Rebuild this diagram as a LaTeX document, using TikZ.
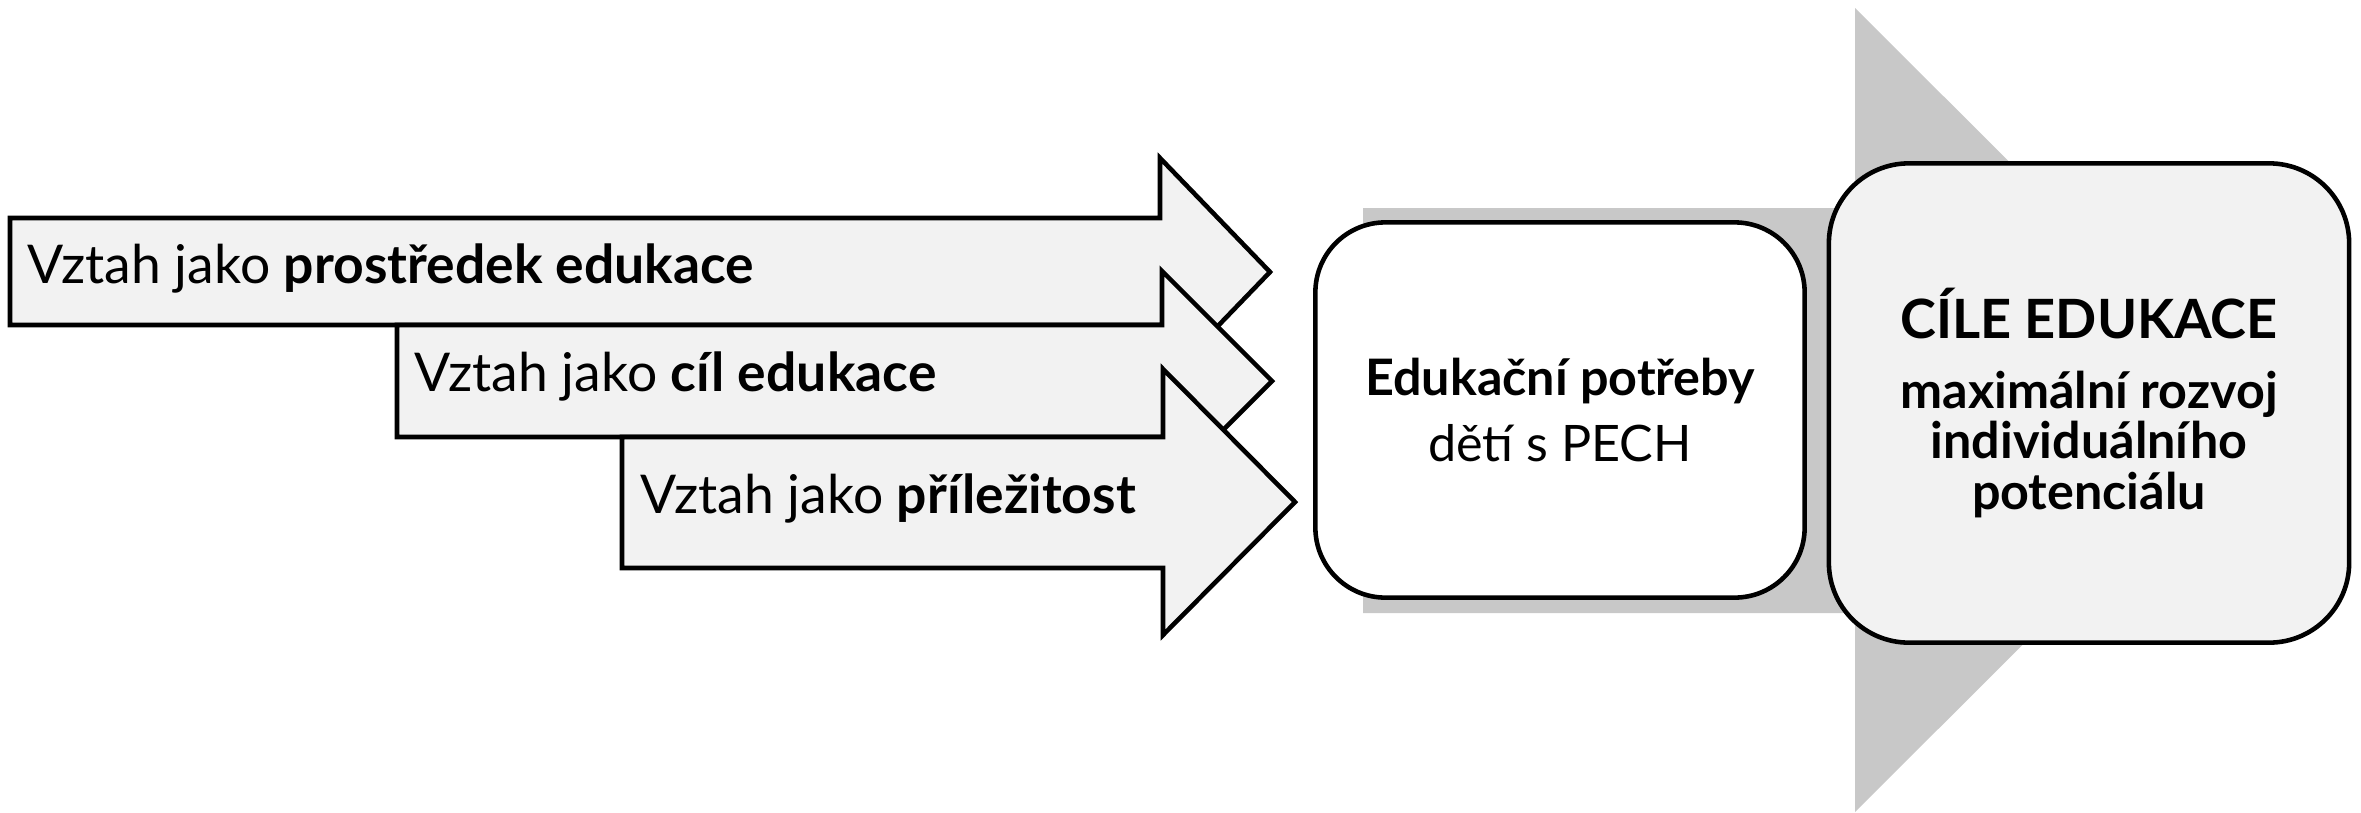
\documentclass[tikz,border=0pt]{standalone}
\usepackage{fontspec}
\setmainfont{Lato}
\definecolor{svetla}{RGB}{242,242,242}
\definecolor{sediva}{RGB}{200,200,200}
\tikzset{
  sipka/.style={draw=black,fill=svetla,line width=1.3pt,line join=miter},
  popis/.style={anchor=base west,inner sep=0pt,font=\fontsize{15.2}{18}\selectfont},
  blok/.style={draw=black,line width=1.3pt,align=center,inner sep=0pt,
    font=\fontsize{14.3}{14.3}\selectfont}
}

\begin{document}
\begin{tikzpicture}[x=0.01cm,y=-0.01cm]
\useasboundingbox (0,0) rectangle (2361,812);
% seda sipka v pozadi
\fill[sediva] (1363,208) -- (1855,208) -- (1855,8) -- (2258,410) -- (1855,812)
  -- (1855,613) -- (1363,613) -- cycle;
% tri sipky vztahu
\draw[sipka] (10,218) -- (1160,218) -- (1160,158) -- (1270,272) -- (1160,386)
  -- (1160,325) -- (10,325) -- cycle;
\draw[sipka] (397,325) -- (1162,325) -- (1162,271) -- (1272,381) -- (1162,491)
  -- (1162,437) -- (397,437) -- cycle;
\draw[sipka] (622,437) -- (1163,437) -- (1163,369) -- (1295,502) -- (1163,635)
  -- (1163,568) -- (622,568) -- cycle;
\node[popis] (prostredek) at (27,283) {Vztah jako \textbf{prostředek edukace}};
\node[popis] (cil) at (414,391) {Vztah jako \textbf{cíl edukace}};
\node[popis] (prilezitost) at (640,513) {Vztah jako \textbf{příležitost}};
% potreby a cile
\node[blok,fill=white,rounded corners=0.7cm,minimum width=4.89cm,minimum height=3.75cm]
  (potreby) at (1560,410) {\textbf{Edukační potřeby}\\[4.5pt]dětí s PECH};
\node[blok,fill=svetla,rounded corners=0.8cm,minimum width=5.2cm,minimum height=4.79cm]
  (cile) at (2089,403) {\textbf{\fontsize{15.4}{15.4}\selectfont CÍLE EDUKACE}\\[5.5pt]
  \textbf{maximální rozvoj}\\\textbf{individuálního}\\\textbf{potenciálu}};
\end{tikzpicture}
\end{document}
